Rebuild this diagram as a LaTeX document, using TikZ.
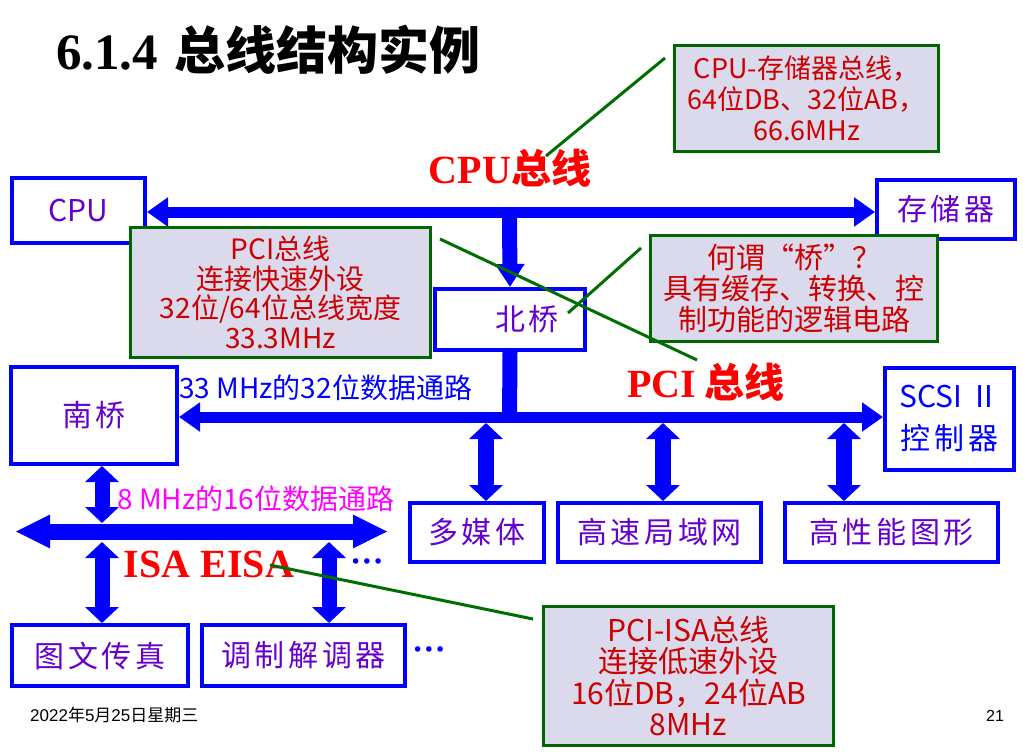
\documentclass[tikz,border=0pt]{standalone}
\usepackage{fontspec}
\setmainfont{Noto Sans CJK SC}
\newfontfamily\tnr{Liberation Serif}
\newfontfamily\boxfont{Noto Sans CJK SC}[LetterSpace=12]
\newfontfamily\plainfont{Noto Sans CJK SC}
\newfontfamily\dejavu{DejaVu Sans}
\newfontfamily\arial{Liberation Sans}
\usetikzlibrary{arrows.meta}
\definecolor{boxblue}{RGB}{0,0,255}
\definecolor{txtpurple}{RGB}{102,0,204}
\definecolor{calgreen}{RGB}{0,102,0}
\definecolor{calfill}{RGB}{218,218,236}
\definecolor{calred}{RGB}{204,0,0}
\definecolor{leadgreen}{RGB}{0,110,0}
\definecolor{lblred}{RGB}{255,0,0}
\definecolor{lblmag}{RGB}{255,0,255}
\begin{document}
\begin{tikzpicture}[x=1pt,y=-1pt,
  bbox/.style={draw=boxblue, line width=4pt, fill=white, text=txtpurple, inner sep=0pt, align=center, font=\boxfont\fontsize{30}{36}\selectfont},
  callout/.style={draw=calgreen, fill=calfill, line width=3pt, text=calred, align=center, inner sep=0pt},
  leader/.style={draw=leadgreen, line width=3pt},
  bus/.style={draw=boxblue, line width=11pt, arrows={Triangle[length=21pt,width=28pt]-Triangle[length=21pt,width=28pt]}},
  isabus/.style={draw=boxblue, line width=16pt, arrows={Triangle[length=35pt,width=31pt]-Triangle[length=35pt,width=31pt]}},
  dbl/.style={draw=boxblue, line width=16pt, arrows={Triangle[length=16pt,width=33pt]-Triangle[length=16pt,width=33pt]}},
  lbl/.style={inner sep=0pt}
]
\fill[white] (0,0) rectangle (1023,755);
\useasboundingbox (0,0) rectangle (1023,755);

% blue boxes
\node[bbox, minimum width=133pt, minimum height=65pt, font=\plainfont\fontsize{30}{36}\selectfont] (cpu) at (78.5,210.5) {CPU};
\node[bbox, minimum width=138pt, minimum height=59pt] (mem) at (946,209.5) {存储器};
\node[bbox, minimum width=150pt, minimum height=61pt] (nb) at (510,319.5) {\hspace*{34pt}北桥};
\node[bbox, minimum width=166pt, minimum height=97pt] (sb) at (94,415.5) {南桥};
\node[bbox, text=boxblue, minimum width=129pt, minimum height=102pt, font=\boxfont\fontsize{30}{42}\selectfont] (scsi) at (949.5,419) {{\plainfont SCSI Ⅱ}\\控制器};
\node[bbox, minimum width=134pt, minimum height=59pt] (mm) at (477,532.5) {多媒体};
\node[bbox, minimum width=203pt, minimum height=59pt] (lan) at (659.5,532.5) {高速局域网};
\node[bbox, minimum width=213pt, minimum height=59pt] (gfx) at (891.5,532.5) {高性能图形};
\node[bbox, minimum width=176pt, minimum height=61pt] (fax) at (100,655.5) {图文传真};
\node[bbox, minimum width=203pt, minimum height=61pt] (modem) at (303.5,655.5) {调制解调器};

% buses
\coordinate (cj) at (509.5,212);
\coordinate (pj) at (509.5,417);
\draw[bus] (cpu.east |- cj) -- (mem.west |- cj);
\draw[boxblue, line width=15pt, arrows={-Triangle[length=23pt,width=28pt]}] (cj) -- (nb.north);
\draw[boxblue, line width=15pt] (nb.south) -- ([yshift=-5pt]pj);
\draw[bus] (sb.east |- pj) -- (scsi.west |- pj);
\coordinate (a1) at (486,423);
\coordinate (a2) at (663,423);
\coordinate (a3) at (844,423);
\draw[dbl] (a1) -- (a1 |- mm.north);
\draw[dbl] (a2) -- (a2 |- lan.north);
\draw[dbl] (a3) -- (a3 |- gfx.north);

\coordinate (il) at (15,531.5);
\coordinate (ir) at (388,531.5);
\draw[isabus] (il) -- (ir);
\coordinate (ij) at (102,523);
\draw[dbl, line width=15pt] (sb.south -| ij) -- (ij);
\coordinate (f1) at (102,542);
\coordinate (f2) at (329,542);
\draw[dbl, line width=15pt] (f1) -- (f1 |- fax.north);
\draw[dbl, line width=15pt] (f2) -- (f2 |- modem.north);

% callouts
\node[callout, minimum width=264pt, minimum height=106pt, font=\fontsize{27}{31}\selectfont] (c1) at (806.5,98.5) {CPU-存储器总线，\\64位DB、32位AB，\\66.6MHz};
\node[callout, minimum width=300pt, minimum height=130pt, font=\fontsize{28}{29.5}\selectfont] (c2) at (280.5,292.5) {PCI总线\\连接快速外设\\32位/64位总线宽度\\33.3MHz};
\node[callout, minimum width=287pt, minimum height=106pt, font=\fontsize{29}{31}\selectfont] (c3) at (794,288.5) {何谓“桥”？\\具有缓存、转换、控\\制功能的逻辑电路};
\node[callout, minimum width=290pt, minimum height=139pt, font=\fontsize{30}{31.5}\selectfont] (c4) at (688.5,676) {PCI-ISA总线\\连接低速外设\\16位DB，24位AB\\8MHz};

% leader lines
\coordinate (l1a) at (546,156); \coordinate (l1b) at (665,58);
\coordinate (l2a) at (440,239); \coordinate (l2b) at (697,360);
\coordinate (l3a) at (568,313); \coordinate (l3b) at (641,248);
\coordinate (l4a) at (270,565); \coordinate (l4b) at (533,619);
\draw[leader] (l1a) -- (l1b);
\draw[leader] (l2a) -- (l2b);
\draw[leader] (l3a) -- (l3b);

% labels
\node[lbl, anchor=west, font=\fontsize{51}{51}\selectfont] (title) at (56,50) {{\tnr\bfseries 6.1.4}\hspace{16pt}\bfseries 总线结构实例};
\node[lbl, text=lblred, font=\fontsize{40}{40}\selectfont] (cpulbl) at (510,168) {{\tnr\bfseries CPU}\bfseries 总线};
\node[lbl, text=lblred, font=\fontsize{40}{40}\selectfont] (pcilbl) at (706,382) {{\tnr\bfseries PCI} \bfseries 总线};
\node[lbl, text=lblred, font=\tnr\bfseries\fontsize{40}{40}\selectfont] (isalbl) at (209,564) {ISA EISA};
\draw[leader] (l4a) -- (l4b);
\node[lbl, anchor=west, text=boxblue, font=\fontsize{28}{28}\selectfont] (pcipath) at (179,388) {33 MHz的32位数据通路};
\node[lbl, anchor=west, text=lblmag, font=\fontsize{28}{28}\selectfont] (isapath) at (117,499) {8 MHz的16位数据通路};
\node[lbl, text=boxblue, font=\dejavu\fontsize{19}{19}\selectfont] (dots1) at (367,564) {•••};
\node[lbl, text=boxblue, font=\dejavu\fontsize{19}{19}\selectfont] (dots2) at (429,652) {•••};
\node[lbl, anchor=west, font=\fontsize{17}{17}\selectfont] (date) at (30,715) {{\arial 2022}年{\arial 5}月{\arial 25}日星期三};
\node[lbl, font=\arial\fontsize{16}{16}\selectfont] (pg) at (995,716) {21};
\end{tikzpicture}
\end{document}
